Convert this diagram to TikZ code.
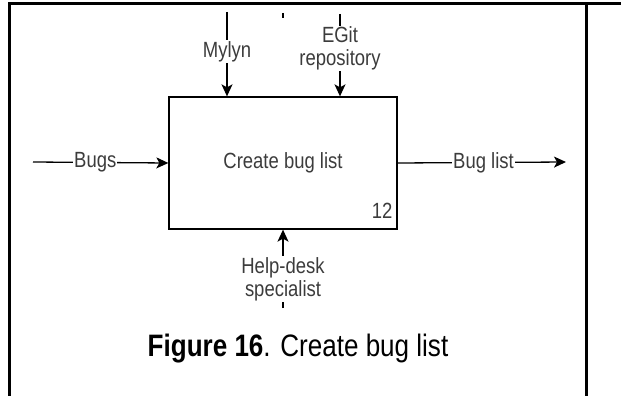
\documentclass[tikz,border=0pt]{standalone}
\usepackage{fontspec}
\setmainfont[FakeStretch=0.84]{Liberation Sans}
\usetikzlibrary{arrows.meta}
\definecolor{lblgray}{RGB}{60,60,60}
\begin{document}
\begin{tikzpicture}
[x=1pt, y=-1pt, font=\fontsize{22}{23}\selectfont]
\tikzstyle{frame}=[line width=3pt]
\tikzstyle{func}=[draw, line width=1.3pt, minimum width=228pt, minimum height=132pt, text=lblgray, inner sep=0pt]
\tikzstyle{flow}=[line width=1.3pt, -{Stealth[length=12pt, width=11pt, inset=3pt]}]
\tikzstyle{lbl}=[fill=white, text=lblgray, inner sep=1pt, align=center]
\useasboundingbox (0,0) rectangle (621,396);

% table frame
\draw [frame] (9,396)--(9,4)--(621,4);
\draw [frame] (586,4)--(586,396);

\node[func]	(Box)	at (283,163)	{Create bug list};
\node[lbl, fill=none, anchor=base east]	(Num)	at ([xshift=-4pt, yshift=11pt]Box.south east)	{12};

\coordinate	(BugsIn)	at (33,162);
\coordinate	(ListOut)	at (566,162);
\coordinate	(MylynIn)	at (227,12);
\coordinate	(EGitIn)	at (340,14);
\coordinate	(HelpIn)	at (283,308);
\coordinate	(StubTop)	at (283,13);

\draw [flow] (BugsIn)--node[lbl, pos=0.46]{Bugs}(Box.west);
\draw [flow] (Box.east)--node[lbl, pos=0.51]{Bug list}(ListOut);
\draw [flow] (MylynIn)--node[lbl, pos=0.47]{Mylyn}(MylynIn |- Box.north);
\draw [flow] (EGitIn)--node[lbl, pos=0.42]{EGit\\repository}(EGitIn |- Box.north);
\draw [flow] (HelpIn)--node[lbl, pos=0.37]{Help-desk\\specialist}(HelpIn |- Box.south);
\draw [line width=1.3pt] (StubTop)--++(0,5);

\node	(Caption)	at (298,349)	{\fontsize{31}{34}\selectfont\textbf{Figure 16}. Create bug list};
\end{tikzpicture}
\end{document}
